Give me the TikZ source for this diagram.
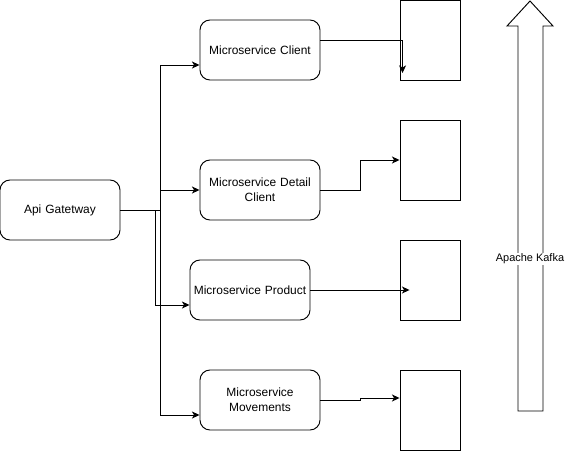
\documentclass[tikz,border=0pt]{standalone}
\usepackage{fontspec}
\setmainfont{Liberation Sans}
\usetikzlibrary{shapes,arrows,arrows.meta,positioning,calc}

\begin{document}
\begin{tikzpicture}[x=0.03cm, y=-0.03cm, every node/.style={font=\fontsize{10.2}{12.5}\selectfont}]
    \tikzstyle{service} = [rectangle, draw, thick, rounded corners=0.3cm, text width=3.4cm, align=center, minimum width=3.6cm, minimum height=1.8cm, inner sep=0pt]
    \tikzstyle{store} = [rectangle, draw, thick, minimum width=1.8cm, minimum height=2.4cm, inner sep=0pt]
    \tikzstyle{link} = [thick, ->, >={Stealth[length=6.5pt, width=6pt, inset=1.8pt]}]

    \useasboundingbox (0,0) rectangle (572,451);

    % Gateway and services
    \node[service] (gw) at (60,210) {Api Gatetway};
    \node[service] (client) at (260,50) {Microservice Client};
    \node[service] (detail) at (260,190) {Microservice Detail\\Client};
    \node[service] (product) at (250,290) {Microservice Product};
    \node[service] (moves) at (260,400) {Microservice\\Movements};

    % Stores
    \node[store] (s1) at (430,40) {};
    \node[store] (s2) at (430,160) {};
    \node[store] (s3) at (430,280) {};
    \node[store] (s4) at (430,410) {};

    % Kafka
    \draw[thick] (518,411) -- (518,26) -- (507,26) -- (530,1) -- (553,26) -- (543,26) -- (543,411) -- cycle;
    \node[fill=white, inner sep=1pt, font=\fontsize{9.35}{11}\selectfont] (kafka) at (530,259) {Apache Kafka};

    % Links
    \draw[link] (gw.east) -- ++(40,0) |- ($(client.west)+(0,15)$);
    \draw[link] (gw.east) -- ++(40,0) |- (detail.west);
    \draw[link] (gw.east) -- ++(35,0) |- ($(product.west)+(0,15)$);
    \draw[link] (gw.east) -- ++(40,0) |- ($(moves.west)+(0,15)$);

    \draw[link] ($(client.east)+(0,-10)$) -| ($(s1.west)+(3,33)$);
    \draw[link] (detail.east) -- ++(40,0) |- (s2.west);
    \draw[link] (product.east) -- ($(s3.west)+(10,10)$);
    \draw[link] (moves.east) -- ++(40,0) |- ($(s4.west)+(0,-12)$);
\end{tikzpicture}
\end{document}
